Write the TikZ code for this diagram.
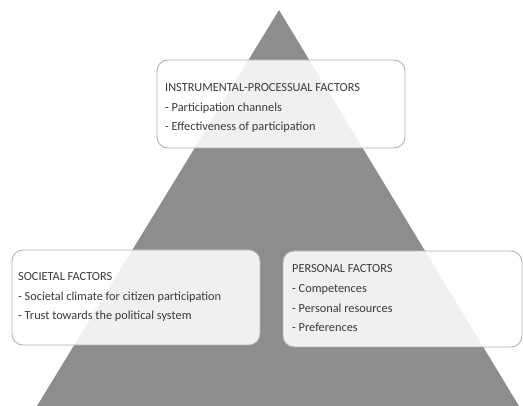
\documentclass[tikz,border=0pt]{standalone}
\usepackage{fontspec}
\setmainfont{Carlito}
\definecolor{pyramid}{HTML}{8C8D8F}
\definecolor{boxline}{HTML}{B2B2B2}
\definecolor{ink}{HTML}{3A3A3A}
\begin{document}
\begin{tikzpicture}[x=1pt,y=-1pt,
  factorbox/.style={draw=boxline, line width=0.9pt, rounded corners=11pt,
    fill=white, fill opacity=0.87, draw opacity=1},
  factortext/.style={anchor=base west, inner sep=0pt, align=left, text=ink,
    font=\fontsize{12.3}{19.8}\selectfont}]
  \useasboundingbox (0,0) rectangle (523,406);
  % the pyramid
  \coordinate (apex) at (279,10);
  \coordinate (baseL) at (37,406);
  \coordinate (baseR) at (519,406);
  \fill[pyramid] (apex) -- (baseL) -- (baseR) -- cycle;
  % the three factor boxes
  \draw[factorbox] (157,60) rectangle (405,148);
  \draw[factorbox] (12,250) rectangle (260,345);
  \draw[factorbox] (283,251) rectangle (522,347);
  % texts, placed by the baseline of their last line
  \node[factortext] (instr) at (165,131)
    {INSTRUMENTAL-PROCESSUAL FACTORS\\- Participation channels\\- Effectiveness of participation};
  \node[factortext] (soc) at (18,320)
    {SOCIETAL FACTORS\\- Societal climate for citizen participation\\- Trust towards the political system};
  \node[factortext] (pers) at (292,332)
    {PERSONAL FACTORS\\- Competences\\- Personal resources\\- Preferences};
\end{tikzpicture}
\end{document}
